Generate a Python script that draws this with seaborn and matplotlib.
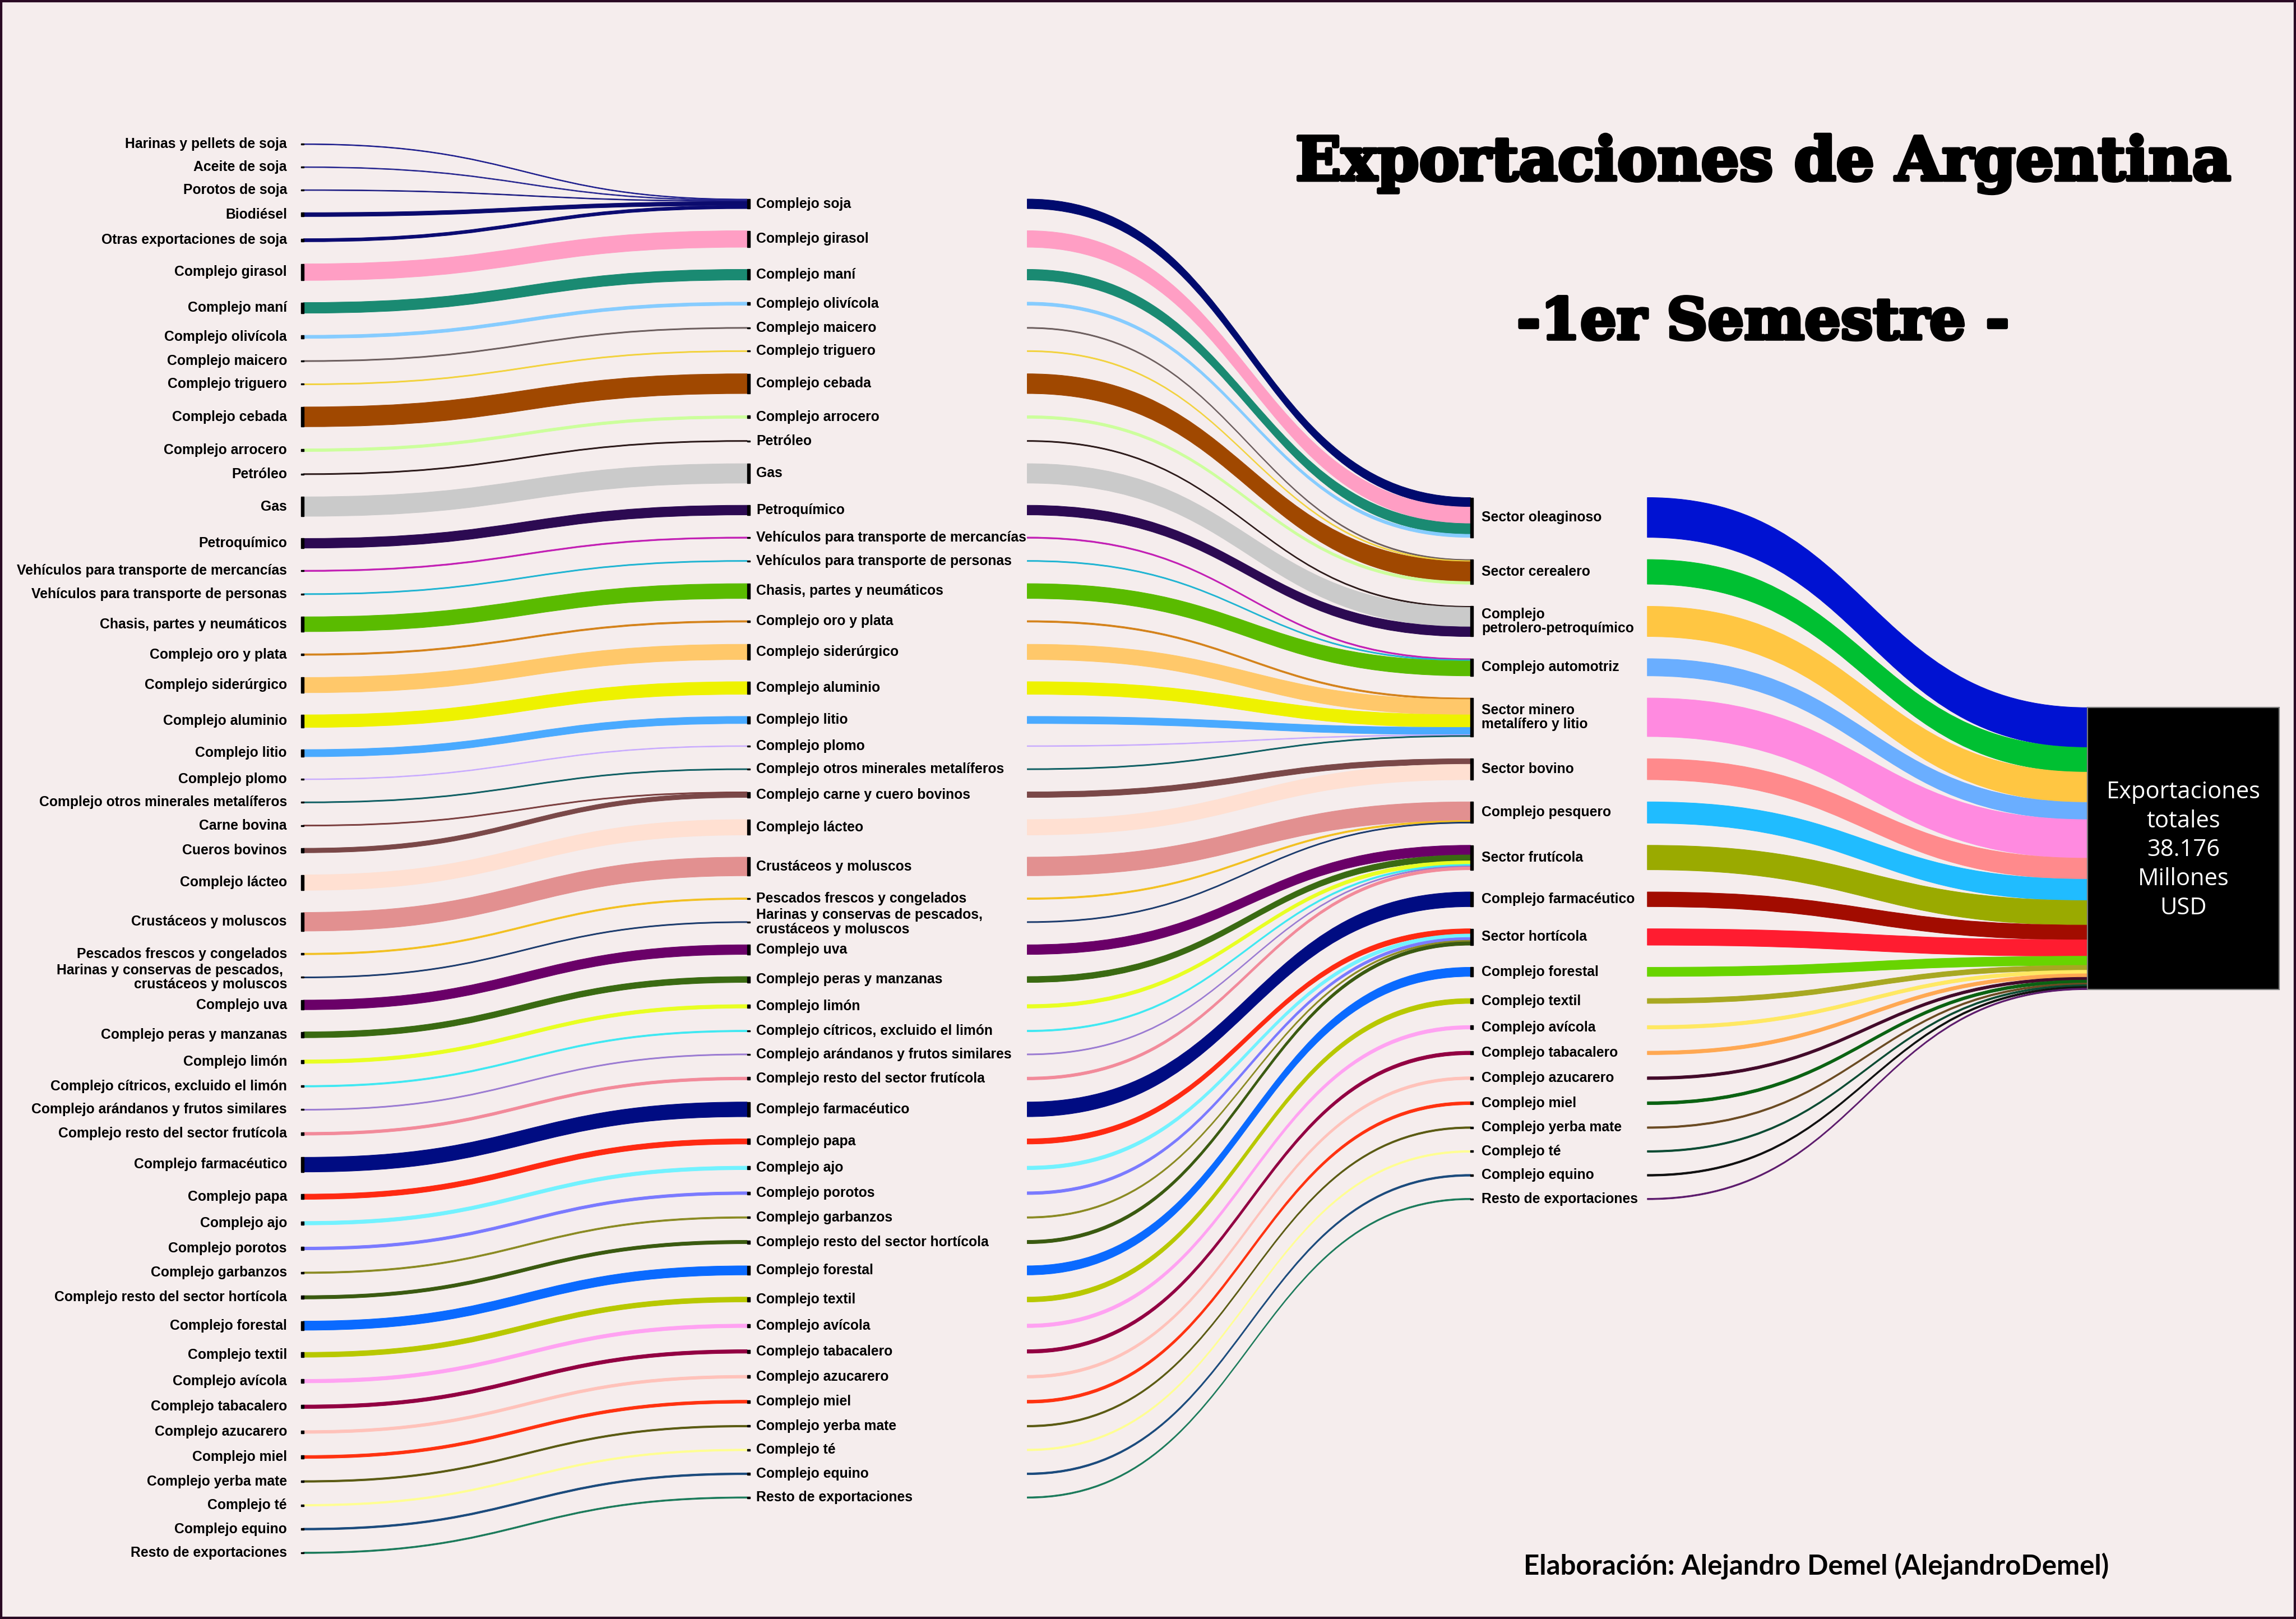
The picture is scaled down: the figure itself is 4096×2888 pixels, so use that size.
import numpy as np
import matplotlib
matplotlib.use("Agg")
import matplotlib.pyplot as plt
import matplotlib.patheffects as pe
import seaborn as sns
from matplotlib.path import Path
from matplotlib.patches import PathPatch, Rectangle

# ---------------- DATA (millones de USD) ----------------
productos = [
    "Harinas y pellets de soja", "Aceite de soja", "Porotos de soja", "Biodiésel",
    "Otras exportaciones de soja", "Complejo girasol", "Complejo maní", "Complejo olivícola",
    "Complejo maicero", "Complejo triguero", "Complejo cebada", "Complejo arrocero",
    "Petróleo", "Gas", "Petroquímico", "Vehículos para transporte de mercancías",
    "Vehículos para transporte de personas", "Chasis, partes y neumáticos",
    "Complejo oro y plata", "Complejo siderúrgico", "Complejo aluminio", "Complejo litio",
    "Complejo plomo", "Complejo otros minerales metalíferos", "Carne bovina", "Cueros bovinos",
    "Complejo lácteo", "Crustáceos y moluscos", "Pescados frescos y congelados",
    "Harinas y conservas de pescados, \ncrustáceos y moluscos", "Complejo uva",
    "Complejo peras y manzanas", "Complejo limón", "Complejo cítricos, excluido el limón",
    "Complejo arándanos y frutos similares", "Complejo resto del sector frutícola",
    "Complejo farmacéutico", "Complejo papa", "Complejo ajo", "Complejo porotos",
    "Complejo garbanzos", "Complejo resto del sector hortícola", "Complejo forestal",
    "Complejo textil", "Complejo avícola", "Complejo tabacalero", "Complejo azucarero",
    "Complejo miel", "Complejo yerba mate", "Complejo té", "Complejo equino",
    "Resto de exportaciones",
]
prod_valores = [
    115, 115, 115, 530, 420, 2240, 1445, 420, 150, 150, 2680, 360,
    150, 2640, 1310, 170, 150, 2015, 210, 2070, 1710, 970, 115, 150,
    150, 610, 2090, 2530, 210, 150, 1310, 800, 475, 210, 150, 380,
    1995, 705, 475, 380, 210, 455, 1235, 665, 475, 475, 380, 400,
    230, 230, 245, 190,
]
prod_colores = [
    "#1c1c8c", "#25258f", "#1a1a82", "#0b0b6e", "#0b0b72", "#ff9ec4", "#1a8a72", "#86ccff",
    "#6b5d5d", "#f2d23c", "#a04800", "#ccff9c", "#2a1818", "#cacaca", "#2c0a52", "#c21eb4",
    "#1eb4d2", "#5abb00", "#d4821a", "#ffc86a", "#eef200", "#4aaaff", "#c8aaff", "#0e5e62",
    "#7a3e3e", "#7a4848", "#ffe0d2", "#e29090", "#f2c020", "#1a3a6c", "#6a0068", "#3a6a12",
    "#e8ff22", "#3ee8f2", "#9a7ad2", "#f28a9a", "#000c82", "#ff2a12", "#72f2ff", "#7a7aff",
    "#8a8a22", "#3a5a10", "#0a6aff", "#b8c800", "#ffa2f2", "#920042", "#ffc2ba", "#ff3210",
    "#5a5a12", "#ffff92", "#1a4a7c", "#1a7a5a",
]
complejos = [
    "Complejo soja", "Complejo girasol", "Complejo maní", "Complejo olivícola",
    "Complejo maicero", "Complejo triguero", "Complejo cebada", "Complejo arrocero",
    "Petróleo", "Gas", "Petroquímico", "Vehículos para transporte de mercancías",
    "Vehículos para transporte de personas", "Chasis, partes y neumáticos",
    "Complejo oro y plata", "Complejo siderúrgico", "Complejo aluminio", "Complejo litio",
    "Complejo plomo", "Complejo otros minerales metalíferos", "Complejo carne y cuero bovinos",
    "Complejo lácteo", "Crustáceos y moluscos", "Pescados frescos y congelados",
    "Harinas y conservas de pescados,\ncrustáceos y moluscos", "Complejo uva",
    "Complejo peras y manzanas", "Complejo limón", "Complejo cítricos, excluido el limón",
    "Complejo arándanos y frutos similares", "Complejo resto del sector frutícola",
    "Complejo farmacéutico", "Complejo papa", "Complejo ajo", "Complejo porotos",
    "Complejo garbanzos", "Complejo resto del sector hortícola", "Complejo forestal",
    "Complejo textil", "Complejo avícola", "Complejo tabacalero", "Complejo azucarero",
    "Complejo miel", "Complejo yerba mate", "Complejo té", "Complejo equino",
    "Resto de exportaciones",
]
# índice de complejo de cada producto
prod_complejo = [0, 0, 0, 0, 0] + list(range(1, 20)) + [20, 20] + list(range(21, 47))
complejo_colores = ["#000a6e"] + prod_colores[5:24] + ["#7a4848"] + prod_colores[26:]
sectores = [
    "Sector oleaginoso", "Sector cerealero", "Complejo\npetrolero-petroquímico",
    "Complejo automotriz", "Sector minero\nmetalífero y litio", "Sector bovino",
    "Complejo pesquero", "Sector frutícola", "Complejo farmacéutico", "Sector hortícola",
    "Complejo forestal", "Complejo textil", "Complejo avícola", "Complejo tabacalero",
    "Complejo azucarero", "Complejo miel", "Complejo yerba mate", "Complejo té",
    "Complejo equino", "Resto de exportaciones",
]
sector_colores = [
    "#0012d2", "#00c032", "#ffc642", "#6aaeff", "#ff8ae0", "#ff8a8c", "#20bcff", "#9aaa00",
    "#a20c00", "#ff1c30", "#68d400", "#a8a822", "#ffe862", "#ffa852", "#420a2a", "#0a6212",
    "#6a4a22", "#0a4a32", "#101010", "#5c1a6c",
]
# índice de sector de cada complejo
complejo_sector = [0, 0, 0, 0, 1, 1, 1, 1, 2, 2, 2, 3, 3, 3, 4, 4, 4, 4, 4, 4, 5, 5,
                   6, 6, 6, 7, 7, 7, 7, 7, 7, 8, 9, 9, 9, 9, 9] + list(range(10, 20))
total_texto = "Exportaciones\ntotales\n38.176\nMillones\nUSD"
titulo = "Exportaciones de Argentina"
subtitulo = "-1er Semestre -"
autor = "Elaboración: Alejandro Demel (AlejandroDemel)"

# ---------------- STYLE ----------------
BG = "#f5eded"
sns.set_theme(style="white")
plt.rcParams["font.family"] = ["Liberation Sans", "DejaVu Sans"]
plt.rcParams["text.color"] = "black"

W = 1568.0
H = W * 2888 / 4096
K = 0.00504        # px por millón
GAP = 15.1
CY = 579.5
NW = 1.8
X0, X1, X1B, X2, X2B, X3 = 205.5, 510.3, 701.5, 1004.3, 1125.0, 1425.7
BOXW = 131.0
LBL = 8.9

fig = plt.figure(figsize=(20.48, 14.44), dpi=200, facecolor=BG)
ax = fig.add_axes([0, 0, 1, 1])
ax.set_facecolor(BG)
ax.set_xlim(0, W)
ax.set_ylim(H, 0)
ax.axis("off")
sns.despine(ax=ax, left=True, bottom=True)

prod_v = np.array(prod_valores, float)
comp_v = np.zeros(len(complejos))
for i, c in enumerate(prod_complejo):
    comp_v[c] += prod_v[i]
sec_v = np.zeros(len(sectores))
for i, s in enumerate(complejo_sector):
    sec_v[s] += comp_v[i]
tot_v = sec_v.sum()


def layout(vals):
    h = np.asarray(vals) * K
    total = h.sum() + GAP * (len(h) - 1)
    top = CY - total / 2
    tops = top + np.concatenate([[0], np.cumsum(h[:-1] + GAP)])
    return tops, h


t0, h0 = layout(prod_v)
t1, h1 = layout(comp_v)
t2, h2 = layout(sec_v)
t3 = CY - tot_v * K / 2
h3 = tot_v * K


def band(x0, ya0, yb0, x1, ya1, yb1, color):
    xm = (x0 + x1) / 2
    verts = [(x0, ya0), (xm, ya0), (xm, ya1), (x1, ya1), (x1, yb1),
             (xm, yb1), (xm, yb0), (x0, yb0), (x0, ya0)]
    codes = [Path.MOVETO, Path.CURVE4, Path.CURVE4, Path.CURVE4, Path.LINETO,
             Path.CURVE4, Path.CURVE4, Path.CURVE4, Path.CLOSEPOLY]
    ax.add_patch(PathPatch(Path(verts, codes), facecolor=color, edgecolor=color,
                           linewidth=0.35, zorder=2))


# links productos -> complejos
off1 = t1.copy()
for i, c in enumerate(prod_complejo):
    hh = h0[i]
    band(X0 + NW, t0[i], t0[i] + hh, X1, off1[c], off1[c] + hh, prod_colores[i])
    off1[c] += hh
# links complejos -> sectores
off2 = t2.copy()
for i, s in enumerate(complejo_sector):
    hh = h1[i]
    band(X1B, t1[i], t1[i] + hh, X2, off2[s], off2[s] + hh, complejo_colores[i])
    off2[s] += hh
# links sectores -> total
off3 = t3
for i in range(len(sectores)):
    hh = h2[i]
    band(X2B, t2[i], t2[i] + hh, X3, off3, off3 + hh, sector_colores[i])
    off3 += hh


def nodes(x, tops, hs):
    for t, hh in zip(tops, hs):
        ax.add_patch(Rectangle((x, t), NW, hh, facecolor="black", edgecolor="black",
                               linewidth=0.5, zorder=3))


nodes(X0, t0, h0)
nodes(X1, t1, h1)
nodes(X2, t2, h2)
ax.add_patch(Rectangle((X3, t3), BOXW, h3, facecolor="black", edgecolor="#7a7a7a",
                       linewidth=0.8, zorder=3))

# labels
for i, s in enumerate(productos):
    ax.text(X0 - 9.5, t0[i] + h0[i] / 2, s, ha="right", va="center", fontsize=LBL,
            fontweight="bold", color="black", linespacing=1.1, zorder=4)
for i, s in enumerate(complejos):
    ax.text(X1 + NW + 4.4, t1[i] + h1[i] / 2, s, ha="left", va="center", fontsize=LBL,
            fontweight="bold", color="black", linespacing=1.1, zorder=4)
for i, s in enumerate(sectores):
    ax.text(X2 + NW + 5.7, t2[i] + h2[i] / 2, s, ha="left", va="center", fontsize=LBL,
            fontweight="bold", color="black", linespacing=1.1, zorder=4)

ax.text(X3 + BOXW / 2, CY + 1, total_texto, ha="center", va="center", color="white",
        fontsize=15, family=["Open Sans", "DejaVu Sans"], linespacing=1.3, zorder=5)

renderer = fig.canvas.get_renderer()


def fit_text(x, y, s, width, **kw):
    t = ax.text(x, y, s, fontsize=20, **kw)
    bb = t.get_window_extent(renderer=renderer)
    target = width * 4096 / W
    t.set_fontsize(20 * target / bb.width)
    return t


heavy = [pe.withStroke(linewidth=2.2, foreground="black")]
fit_text(1204, 123, titulo, 638, ha="center", va="baseline", color="black",
         family=["DejaVu Serif", "DejaVu Sans"], fontweight="bold",
         path_effects=heavy)
fit_text(1204, 231.5, subtitulo, 336, ha="center", va="baseline", color="black",
         family=["DejaVu Serif", "DejaVu Sans"], fontweight="bold",
         path_effects=heavy)
fit_text(1240.5, 1075, autor, 399, ha="center", va="baseline", color="black",
         family=["Lato", "DejaVu Sans"], fontweight="bold")

fig.patches.append(Rectangle((0, 0), 1, 1, transform=fig.transFigure, fill=False,
                             edgecolor="#2a0a24", linewidth=3, zorder=10))

fig.savefig("out.png", dpi=200, facecolor=BG)
